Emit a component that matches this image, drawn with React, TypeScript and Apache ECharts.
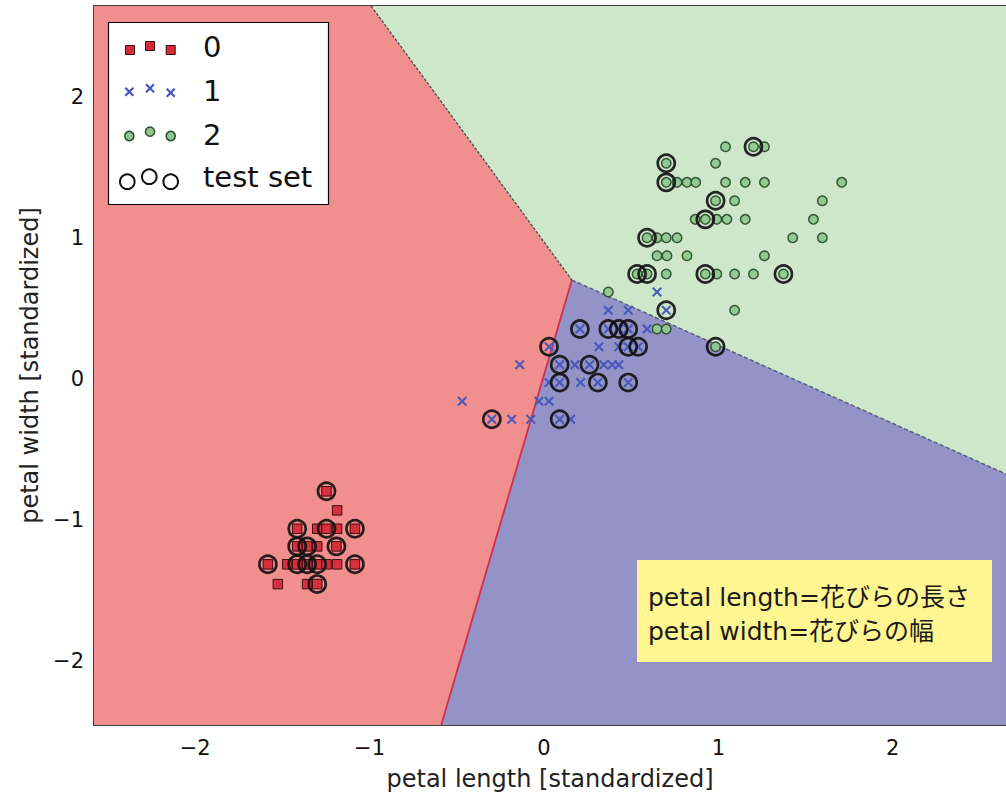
import React, { useEffect, useRef } from "react";
import * as echarts from "echarts";

// ---- axes ----
const xTicks = [-2, -1, 0, 1, 2];
const yTicks = [-2, -1, 0, 1, 2];
const xRange = [-2.58, 2.649];
const yRange = [-2.45, 2.642];

// ---- decision regions (data coordinates) ----
const regionRed = [[-2.58, 2.642], [-0.991, 2.642], [0.16, 0.701], [-0.589, -2.45], [-2.58, -2.45]];
const regionGreen = [[-0.991, 2.642], [2.649, 2.642], [2.649, -0.673], [0.16, 0.701]];
const regionBlue = [[0.16, 0.701], [2.649, -0.673], [2.649, -2.45], [-0.589, -2.45]];
const boundaryRedGreen = [[-0.991, 2.642], [0.16, 0.701]];
const boundaryRedBlue = [[0.16, 0.701], [-0.589, -2.45]];
const boundaryGreenBlue = [[0.16, 0.701], [2.649, -0.673]];

// ---- samples ----
const class0 = [
  [-1.247, -0.795], [-1.186, -0.93],
  [-1.415, -1.06], [-1.3, -1.06], [-1.247, -1.06], [-1.186, -1.06], [-1.084, -1.06],
  [-1.415, -1.185], [-1.358, -1.185], [-1.3, -1.185], [-1.19, -1.185],
  [-1.583, -1.312], [-1.472, -1.312], [-1.415, -1.312], [-1.358, -1.312], [-1.3, -1.312],
  [-1.247, -1.312], [-1.186, -1.312], [-1.084, -1.312],
  [-1.526, -1.452], [-1.358, -1.452], [-1.3, -1.452],
];
const class1 = [
  [-0.469, -0.158],
  [-0.299, -0.285], [-0.185, -0.285], [-0.076, -0.285], [0.09, -0.285], [0.153, -0.285],
  [-0.139, 0.101],
  [-0.029, -0.158], [0.029, -0.158],
  [0.029, -0.025], [0.09, -0.025], [0.21, -0.025], [0.309, -0.025], [0.483, -0.025],
  [0.09, 0.101], [0.177, 0.101], [0.261, 0.101], [0.343, 0.101], [0.391, 0.101], [0.429, 0.101],
  [0.029, 0.229], [0.315, 0.229], [0.429, 0.229], [0.483, 0.229], [0.54, 0.229],
  [0.206, 0.354], [0.369, 0.354], [0.429, 0.354], [0.483, 0.354], [0.591, 0.354],
  [0.369, 0.487], [0.483, 0.487], [0.701, 0.487],
  [0.648, 0.616],
];
const class2 = [
  [0.369, 0.616],
  [0.648, 0.354], [0.701, 0.354],
  [0.984, 0.229],
  [1.093, 0.487],
  [0.534, 0.744], [0.591, 0.744], [0.701, 0.744], [0.925, 0.744], [0.991, 0.744], [1.093, 0.744], [1.201, 0.744], [1.373, 0.744],
  [0.648, 0.873], [0.705, 0.873], [0.82, 0.873], [1.264, 0.873],
  [0.591, 1.001], [0.648, 1.001], [0.701, 1.001], [0.763, 1.001], [1.426, 1.001], [1.596, 1.001],
  [0.867, 1.131], [0.925, 1.131], [0.991, 1.131], [1.049, 1.131], [1.154, 1.131], [1.545, 1.131],
  [0.984, 1.263], [1.093, 1.263], [1.596, 1.263],
  [0.701, 1.393], [0.763, 1.393], [0.82, 1.393], [0.87, 1.393], [1.041, 1.393], [1.154, 1.393], [1.264, 1.393], [1.707, 1.393],
  [0.701, 1.528], [0.984, 1.528],
  [1.041, 1.645], [1.201, 1.645], [1.264, 1.645],
];
const testSet = [
  [-1.247, -0.795], [-1.415, -1.06], [-1.247, -1.06], [-1.084, -1.06],
  [-1.415, -1.185], [-1.358, -1.185], [-1.19, -1.185],
  [-1.583, -1.312], [-1.415, -1.312], [-1.358, -1.312], [-1.3, -1.312], [-1.084, -1.312], [-1.3, -1.452],
  [-0.299, -0.285], [0.09, -0.285], [0.09, -0.025], [0.309, -0.025], [0.483, -0.025],
  [0.09, 0.101], [0.261, 0.101], [0.029, 0.229], [0.483, 0.229], [0.54, 0.229],
  [0.206, 0.354], [0.369, 0.354], [0.429, 0.354], [0.483, 0.354], [0.701, 0.487],
  [0.984, 0.229], [0.534, 0.744], [0.591, 0.744], [0.925, 0.744], [1.373, 0.744],
  [0.591, 1.001], [0.925, 1.131], [0.984, 1.263], [0.701, 1.393], [0.701, 1.528], [1.201, 1.645],
];

const legendLabels = ["0", "1", "2", "test set"];
const noteLines = ["petal length=花びらの長さ", "petal width=花びらの幅"];
const xName = "petal length [standardized]";
const yName = "petal width [standardized]";

const regionColors = ["#F18E8E", "#CEE7CB", "#9393C8"];
const regions = [regionRed, regionGreen, regionBlue];

const X_PATH = "path://M1.5,0 L5,3.5 L8.5,0 L10,1.5 L6.5,5 L10,8.5 L8.5,10 L5,6.5 L1.5,10 L0,8.5 L3.5,5 L0,1.5 Z";
const FONT = '"DejaVu Sans", "Noto Sans CJK JP", sans-serif';

const RED = "#d42a3a";
const BLUE = "#4455bb";
const GREEN = "#8fc88f";

function legendGraphics(): any[] {
  const els: any[] = [];
  els.push({ type: "rect", shape: { x: 108.5, y: 22.5, width: 220, height: 182 }, style: { fill: "#fff", stroke: "#000", lineWidth: 1.2 }, z: 100 });
  const rows = [
    [[130, 50], [150, 46], [170.7, 50]],
    [[129.3, 91.7], [150, 88.3], [170.7, 92.7]],
    [[129.3, 136], [150, 131.7], [170.7, 136]],
    [[127.3, 181.7], [149.3, 176.7], [170.7, 181.7]],
  ];
  const labelY = [46.7, 90.5, 134.5, 177];
  rows[0].forEach(([cx, cy]) => els.push({ type: "rect", shape: { x: cx - 4.5, y: cy - 4.5, width: 9, height: 9 }, style: { fill: RED, stroke: "#3a0a0a", lineWidth: 1 }, z: 101 }));
  rows[1].forEach(([cx, cy]) => {
    els.push({ type: "line", shape: { x1: cx - 4, y1: cy - 4, x2: cx + 4, y2: cy + 4 }, style: { stroke: BLUE, lineWidth: 2.2 }, z: 101 });
    els.push({ type: "line", shape: { x1: cx - 4, y1: cy + 4, x2: cx + 4, y2: cy - 4 }, style: { stroke: BLUE, lineWidth: 2.2 }, z: 101 });
  });
  rows[2].forEach(([cx, cy]) => els.push({ type: "circle", shape: { cx, cy, r: 4.6 }, style: { fill: GREEN, stroke: "#2f4f2f", lineWidth: 1.5 }, z: 101 }));
  rows[3].forEach(([cx, cy]) => els.push({ type: "circle", shape: { cx, cy, r: 7.3 }, style: { fill: "none", stroke: "#111", lineWidth: 2 }, z: 101 }));
  legendLabels.forEach((t, i) => els.push({ type: "text", x: 203, y: labelY[i], style: { text: t, fontSize: 29, fontFamily: FONT, fill: "#111", align: "left", verticalAlign: "middle" }, z: 101 }));
  // note box
  els.push({ type: "rect", shape: { x: 637, y: 560, width: 355, height: 102 }, style: { fill: "#FFF591" }, z: 100 });
  noteLines.forEach((t, i) => els.push({ type: "text", x: 648, y: 597 + i * 34, style: { text: t, fontSize: 25, fontFamily: FONT, fill: "#1a1a1a", align: "left", verticalAlign: "middle" }, z: 101 }));
  return els;
}

export default function App() {
  const ref = useRef<HTMLDivElement>(null);
  useEffect(() => {
    if (!ref.current) return;
    const chart = echarts.init(ref.current, null, { renderer: "svg" });
    const fmt = (v: number) => String(v).replace("-", "\u2212");
    const axisCommon = {
      type: "value",
      splitLine: { show: false },
      axisLine: { show: true, onZero: false, lineStyle: { color: "#000", width: 1.5 } },
      axisTick: { show: true, inside: true, length: 6, lineStyle: { color: "#000", width: 1 } },
    };
    chart.setOption({
      animation: false,
      backgroundColor: "#fff",
      grid: { left: 94, top: 6, right: -2, bottom: 73 },
      xAxis: [
        {
          ...axisCommon,
          min: xRange[0], max: xRange[1], position: "bottom",
          axisTick: { ...axisCommon.axisTick, customValues: xTicks },
          axisLabel: { customValues: xTicks, formatter: fmt, fontSize: 21, color: "#111", fontFamily: FONT, margin: 12 },
          name: xName, nameLocation: "middle", nameGap: 42,
          nameTextStyle: { fontSize: 24, color: "#222", fontFamily: FONT },
        },
        {
          ...axisCommon,
          min: xRange[0], max: xRange[1], position: "top",
          axisTick: { ...axisCommon.axisTick, customValues: xTicks },
          axisLabel: { show: false },
        },
      ],
      yAxis: [
        {
          ...axisCommon,
          min: yRange[0], max: yRange[1], position: "left",
          axisTick: { ...axisCommon.axisTick, customValues: yTicks },
          axisLabel: { customValues: yTicks, formatter: fmt, fontSize: 21, color: "#111", fontFamily: FONT, margin: 10 },
          name: yName, nameLocation: "middle", nameGap: 52,
          nameTextStyle: { fontSize: 24, color: "#222", fontFamily: FONT },
        },
      ],
      series: [
        {
          type: "custom",
          silent: true,
          clip: true,
          z: 1,
          data: regions.map((_, i) => [0, 0, i]),
          renderItem: (params: any, api: any) => {
            const poly = regions[params.dataIndex];
            const pts = poly.map((p) => api.coord(p));
            return { type: "polygon", shape: { points: pts }, style: { fill: regionColors[params.dataIndex], stroke: regionColors[params.dataIndex], lineWidth: 0.5 } };
          },
        },
        { type: "line", silent: true, z: 2, symbol: "none", data: boundaryRedGreen, lineStyle: { color: "rgba(60,60,60,0.85)", width: 1.4, type: [3, 1.5] } },
        { type: "line", silent: true, z: 2, symbol: "none", data: boundaryRedBlue, lineStyle: { color: "#d0304e", width: 1.8 } },
        { type: "line", silent: true, z: 2, symbol: "none", data: boundaryGreenBlue, lineStyle: { color: "#56607a", width: 1.5, type: [4, 2.5] } },
        { name: "0", type: "scatter", silent: true, z: 3, symbol: "rect", symbolSize: 9.5, data: class0, itemStyle: { color: RED, borderColor: "#3a0a0a", borderWidth: 1, opacity: 0.95 } },
        { name: "1", type: "scatter", silent: true, z: 3, symbol: X_PATH, symbolSize: 10, data: class1, itemStyle: { color: BLUE, opacity: 0.95 } },
        { name: "2", type: "scatter", silent: true, z: 3, symbol: "circle", symbolSize: 9.5, data: class2, itemStyle: { color: GREEN, borderColor: "#2f4f2f", borderWidth: 1.5, opacity: 0.95 } },
        { name: "test set", type: "scatter", silent: true, z: 4, symbol: "circle", symbolSize: 17, data: testSet, itemStyle: { color: "rgba(0,0,0,0)", borderColor: "#111", borderWidth: 2.7, opacity: 0.9 } },
      ],
      graphic: legendGraphics(),
    });
    return () => chart.dispose();
  }, []);
  return <div ref={ref} style={{ position: "fixed", left: 0, top: 0, width: 1006, height: 798 }} />;
}
